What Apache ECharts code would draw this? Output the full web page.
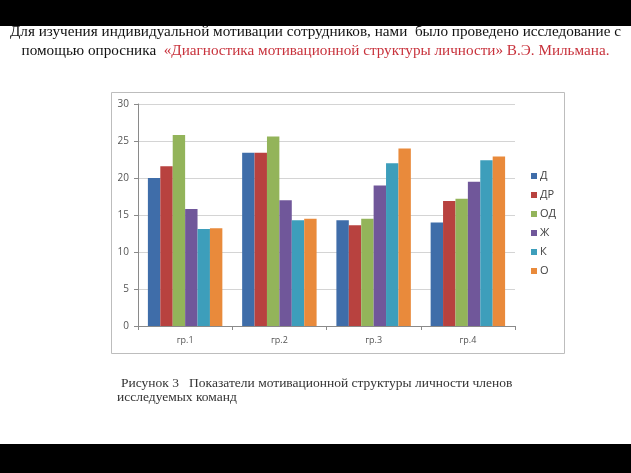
<!DOCTYPE html>
<html><head><meta charset="utf-8">
<script src="https://cdn.jsdelivr.net/npm/echarts@6/dist/echarts.min.js"></script>
<style>html,body{margin:0;padding:0;background:#fff}#c{width:631px;height:473px}</style>
</head><body><div id="c"></div>
<script>
const categories = ['гр.1', 'гр.2', 'гр.3', 'гр.4'];
const seriesNames = ['Д', 'ДР', 'ОД', 'Ж', 'К', 'О'];
const valsD  = [20.0, 23.4, 14.3, 14.0];
const valsDR = [21.6, 23.4, 13.6, 16.9];
const valsOD = [25.8, 25.6, 14.5, 17.2];
const valsZh = [15.8, 17.0, 19.0, 19.5];
const valsK  = [13.1, 14.3, 22.0, 22.4];
const valsO  = [13.2, 14.5, 24.0, 22.9];
const yTicks = [0, 5, 10, 15, 20, 25, 30];
const colors = ['#3F6DA9', '#B8423F', '#93B45A', '#70579A', '#3D9EBB', '#E98A3B'];
const allVals = [valsD, valsDR, valsOD, valsZh, valsK, valsO];

const chart = echarts.init(document.getElementById('c'), null, {renderer: 'canvas'});
chart.setOption({
  animation: false,
  backgroundColor: '#fff',
  color: colors,
  grid: {left: 138, right: 116, top: 104, bottom: 147},
  legend: {
    orient: 'vertical', left: 526, top: 165,
    itemWidth: 6, itemHeight: 6, itemGap: 7,
    icon: 'rect',
    textStyle: {fontSize: 11, color: '#404040', fontFamily: 'Open Sans', lineHeight: 12, padding: [0,0,0,-2]},
    data: seriesNames
  },
  xAxis: {
    type: 'category', data: categories,
    axisLine: {lineStyle: {color: '#8a8a8a'}},
    axisTick: {show: true, alignWithLabel: false, length: 4, lineStyle: {color: '#8a8a8a'}},
    axisLabel: {fontSize: 9, color: '#555', fontFamily: 'Open Sans', margin: 10}
  },
  yAxis: {
    type: 'value', min: 0, max: 30, interval: 5,
    axisLine: {show: true, lineStyle: {color: '#8a8a8a'}},
    axisTick: {show: true, length: 4, lineStyle: {color: '#8a8a8a'}},
    splitLine: {lineStyle: {color: '#d4d4d4'}},
    axisLabel: {fontSize: 10, color: '#555', fontFamily: 'Open Sans', margin: 9,
      formatter: v => yTicks.includes(v) ? String(v) : ''}
  },
  series: seriesNames.map((n, i) => ({
    name: n, type: 'bar', data: allVals[i],
    barGap: '0%', barCategoryGap: '21%'
  })),
  graphic: [
    {type: 'rect', shape: {x: 111.5, y: 92.5, width: 453, height: 261}, style: {fill: 'none', stroke: '#bdbdbd', lineWidth: 1}, z: -1},
    {type: 'rect', shape: {x: 0, y: 0, width: 631, height: 26}, style: {fill: '#000'}, z: 10},
    {type: 'rect', shape: {x: 0, y: 444, width: 631, height: 29}, style: {fill: '#000'}, z: 10},
    {type: 'text', left: 'center', top: 25, z: 5,
      style: {text: 'Для изучения индивидуальной мотивации сотрудников, нами  было проведено исследование с',
        font: '15.2px "Liberation Serif"', fill: '#111'}},
    {type: 'text', left: 'center', top: 44, z: 5,
      style: {text: '{b|помощью опросника  }{r|«Диагностика мотивационной структуры личности» В.Э. Мильмана.}',
        font: '15.2px "Liberation Serif"',
        rich: {b: {fill: '#111', font: '15.2px "Liberation Serif"'}, r: {fill: '#C8323C', font: '15.2px "Liberation Serif"'}}}},
    {type: 'text', left: 121, top: 376, z: 5,
      style: {text: 'Рисунок 3   Показатели мотивационной структуры личности членов', font: '13.5px "Liberation Serif"', fill: '#333'}},
    {type: 'text', left: 117, top: 390, z: 5,
      style: {text: 'исследуемых команд', font: '13.5px "Liberation Serif"', fill: '#333'}}
  ]
});
</script></body></html>
